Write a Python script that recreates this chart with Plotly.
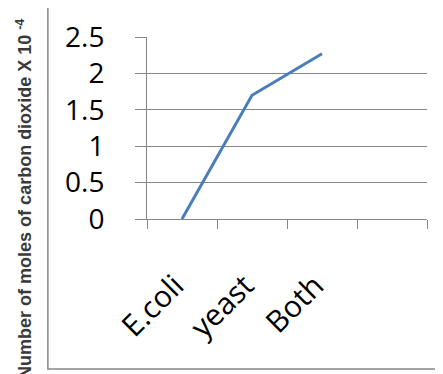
import plotly.graph_objects as go

categories = ["E.coli", "yeast", "Both", " "]
moles_co2 = [0.0, 1.70, 2.27]
y_ticks = [0, 0.5, 1, 1.5, 2, 2.5]
y_tick_text = ["0", "0.5", "1", "1.5", "2", "2.5"]
y_title = "<b>Number of moles of carbon dioxide X 10 <sup>-4</sup></b>"

grid = "#868686"
label_font = "Open Sans, Noto Sans, sans-serif"
fig = go.Figure()
fig.add_trace(go.Scatter(
    x=categories[:len(moles_co2)], y=moles_co2, mode="lines",
    line=dict(color="#4A7EBB", width=3), showlegend=False,
))

# the page body adds an 8px offset, so the figure is 8px smaller in each direction
fig.update_layout(
    width=435, height=366,
    margin=dict(l=139, r=16, t=29, b=155, autoexpand=False),
    paper_bgcolor="white", plot_bgcolor="white",
    font=dict(family=label_font, color="black"),
    xaxis=dict(
        type="category", categoryorder="array", categoryarray=categories,
        range=[-0.5, len(categories) - 0.5], automargin=False,
        tickson="boundaries", ticks="outside", ticklen=9, tickcolor=grid, tickwidth=1,
        showline=True, linecolor=grid, linewidth=1,
        showgrid=False, zeroline=False,
        tickangle=-45, tickfont=dict(size=30, family=label_font, color="black"),
        ticklabelstandoff=36, ticklabelshift=-7,
    ),
    yaxis=dict(
        range=[0, 2.5], tickvals=y_ticks, ticktext=y_tick_text, automargin=False,
        ticks="outside", ticklen=11, tickcolor=grid, tickwidth=1,
        showline=True, linecolor=grid, linewidth=1,
        showgrid=True, gridcolor=grid, gridwidth=1, zeroline=False,
        tickfont=dict(size=28, family=label_font, color="black"),
        ticklabelstandoff=25,
    ),
    shapes=[dict(
        type="rect", xref="paper", yref="paper",
        x0=-0.354, x1=1.2, y0=-0.824, y1=1.176,
        line=dict(color=grid, width=1.5), fillcolor="rgba(0,0,0,0)", layer="below",
    )],
    annotations=[dict(
        text=y_title, textangle=-90, showarrow=False,
        xref="paper", yref="paper", x=-0.436, y=0.11,
        xanchor="center", yanchor="middle",
        font=dict(size=18, family="Liberation Sans, Arial, sans-serif", color="#3a3a3a"),
    )],
)

fig.write_html("out.html")
